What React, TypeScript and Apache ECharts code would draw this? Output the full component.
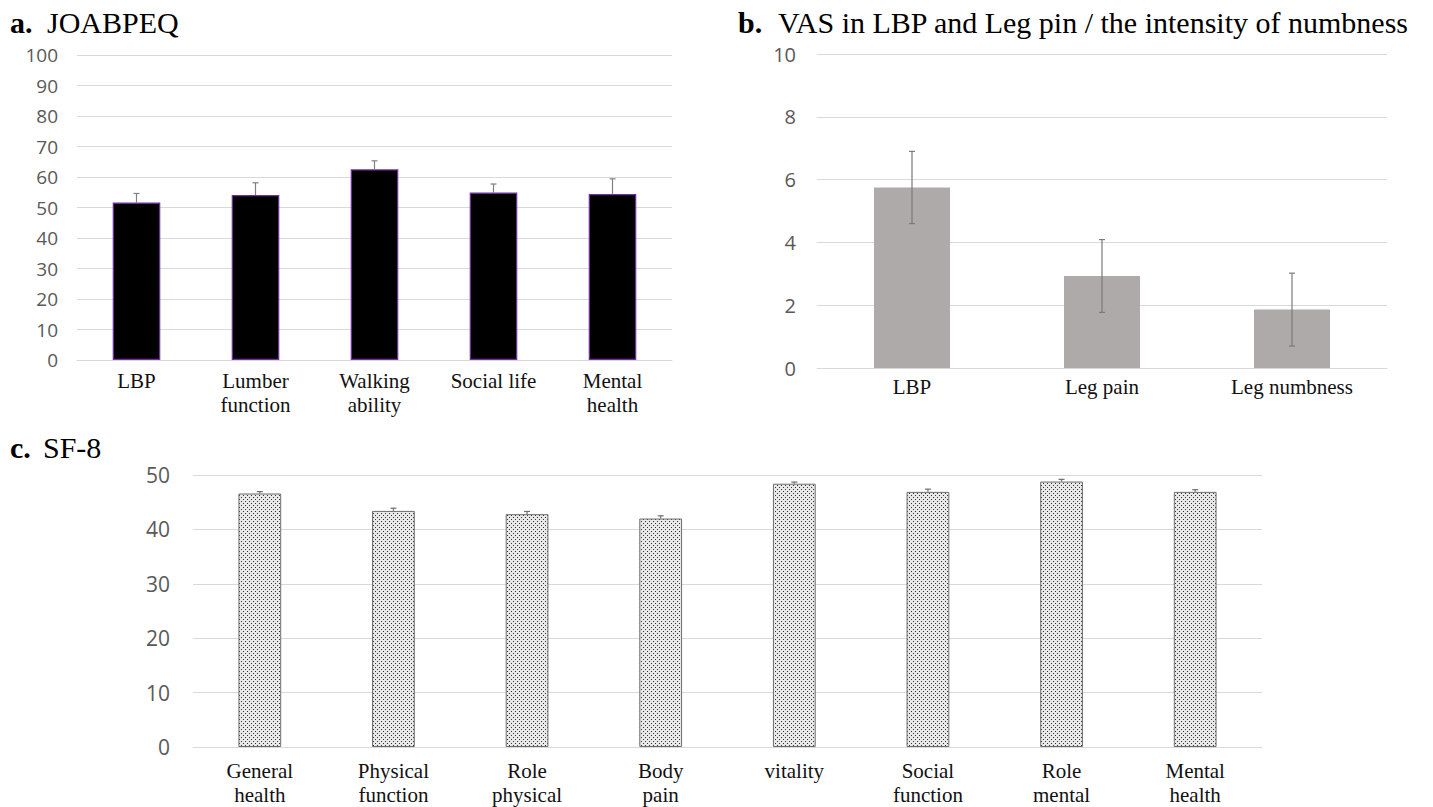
import React, { useEffect, useRef } from "react";
import * as echarts from "echarts";

// ---- Panel a: JOABPEQ ----
const joaCategories = ["LBP", "Lumber\nfunction", "Walking\nability", "Social life", "Mental\nhealth"];
const joaValues = [51.6, 54.1, 62.5, 54.9, 54.4];
const joaErrors = [3.0, 4.0, 2.8, 2.8, 5.0];
const joaTicks = { min: 0, max: 100, interval: 10 };

// ---- Panel b: VAS ----
const vasCategories = ["LBP", "Leg pain", "Leg numbness"];
const vasValues = [5.75, 2.93, 1.86];
const vasErrors = [1.15, 1.16, 1.16];
const vasTicks = { min: 0, max: 10, interval: 2 };

// ---- Panel c: SF-8 ----
const sfCategories = [
  "General\nhealth",
  "Physical\nfunction",
  "Role\nphysical",
  "Body\npain",
  "vitality",
  "Social\nfunction",
  "Role\nmental",
  "Mental\nhealth",
];
const sfValues = [46.6, 43.4, 42.8, 42.0, 48.4, 46.9, 48.8, 46.9];
const sfErrors = [0.35, 0.5, 0.5, 0.5, 0.3, 0.5, 0.4, 0.4];
const sfTicks = { min: 0, max: 50, interval: 10 };

const SERIF = "'Liberation Serif', 'Times New Roman', serif";
const SANS = "'Open Sans', 'Noto Sans', sans-serif";

function makePattern(): HTMLCanvasElement {
  const c = document.createElement("canvas");
  c.width = 4;
  c.height = 4;
  const ctx = c.getContext("2d")!;
  ctx.fillStyle = "#e8e8e8";
  ctx.fillRect(0, 0, 4, 4);
  ctx.fillStyle = "#333333";
  ctx.fillRect(1, 1, 1, 1);
  ctx.fillRect(3, 3, 1, 1);
  return c;
}

function errorSeries(
  idx: number,
  values: number[],
  errors: number[],
  both: boolean,
  color: string,
  capHalf: number
) {
  return {
    type: "custom",
    xAxisIndex: idx,
    yAxisIndex: idx,
    z: 5,
    silent: true,
    data: values.map((v, i) => [i, v, errors[i]]),
    renderItem: (params: any, api: any) => {
      const x = api.value(0);
      const v = api.value(1);
      const e = api.value(2);
      const top = api.coord([x, v + e]);
      const bot = api.coord([x, both ? v - e : v]);
      const style = { stroke: color, lineWidth: 1.2 };
      const children: any[] = [
        { type: "line", shape: { x1: top[0], y1: top[1], x2: bot[0], y2: bot[1] }, style },
        { type: "line", shape: { x1: top[0] - capHalf, y1: top[1], x2: top[0] + capHalf, y2: top[1] }, style },
      ];
      if (both) {
        children.push({
          type: "line",
          shape: { x1: bot[0] - capHalf, y1: bot[1], x2: bot[0] + capHalf, y2: bot[1] },
          style,
        });
      }
      return { type: "group", children };
    },
  };
}

function valueAxis(idx: number, t: { min: number; max: number; interval: number }, fontSize: number, margin: number) {
  return {
    type: "value",
    gridIndex: idx,
    min: t.min,
    max: t.max,
    interval: t.interval,
    axisLine: { show: false },
    axisTick: { show: false },
    axisLabel: { color: "#595959", fontFamily: SANS, fontSize, margin },
    splitLine: { show: true, lineStyle: { color: "#d9d9d9", width: 1 } },
  };
}

function catAxis(idx: number, data: string[], margin: number) {
  return {
    type: "category",
    gridIndex: idx,
    data,
    axisLine: { show: true, lineStyle: { color: "#d9d9d9", width: 1 } },
    axisTick: { show: false },
    axisLabel: {
      color: "#111",
      fontFamily: SERIF,
      fontSize: 21,
      lineHeight: 24,
      margin,
      interval: 0,
    },
  };
}

function titleTexts(x: number, y: number, letter: string, gap: number, rest: string) {
  return [
    {
      type: "text",
      left: x,
      top: y,
      style: { text: letter, fontFamily: SERIF, fontWeight: "bold", fontSize: 30, fill: "#000" },
    },
    {
      type: "text",
      left: x + gap,
      top: y,
      style: { text: rest, fontFamily: SERIF, fontSize: 30, fill: "#000" },
    },
  ];
}

export default function App() {
  const ref = useRef<HTMLDivElement>(null);
  useEffect(() => {
    if (!ref.current) return;
    const chart = echarts.init(ref.current, undefined, { renderer: "svg" });
    const pattern = makePattern();
    const option: any = {
      animation: false,
      backgroundColor: "#ffffff",
      grid: [
        { left: 77, top: 55, width: 595, height: 305 },
        { left: 817, top: 54, width: 570, height: 314 },
        { left: 193, top: 475, width: 1069, height: 273 },
      ],
      xAxis: [catAxis(0, joaCategories, 9), catAxis(1, vasCategories, 7), catAxis(2, sfCategories, 12)],
      yAxis: [valueAxis(0, joaTicks, 19, 19), valueAxis(1, vasTicks, 20, 21), valueAxis(2, sfTicks, 21, 23)],
      series: [
        {
          type: "bar",
          xAxisIndex: 0,
          yAxisIndex: 0,
          data: joaValues,
          barWidth: "40%",
          itemStyle: { color: "#000000", borderColor: "#7030A0", borderWidth: 1.2 },
        },
        errorSeries(0, joaValues, joaErrors, false, "#808080", 3),
        {
          type: "bar",
          xAxisIndex: 1,
          yAxisIndex: 1,
          data: vasValues,
          barWidth: "40%",
          itemStyle: { color: "#AEAAAA" },
        },
        errorSeries(1, vasValues, vasErrors, true, "#7a7a7a", 3),
        {
          type: "bar",
          xAxisIndex: 2,
          yAxisIndex: 2,
          data: sfValues,
          barWidth: "32%",
          itemStyle: {
            color: { image: pattern, repeat: "repeat", imageWidth: 4, imageHeight: 4 },
            borderColor: "#6e6e6e",
            borderWidth: 1,
          },
        },
        errorSeries(2, sfValues, sfErrors, false, "#6e6e6e", 3),
      ],
      graphic: [
        ...titleTexts(10, 7, "a.", 37, "JOABPEQ"),
        ...titleTexts(738, 7, "b.", 40, "VAS in LBP and Leg pin / the intensity of numbness"),
        ...titleTexts(10, 432, "c.", 33, "SF-8"),
      ],
    };
    chart.setOption(option);
    return () => chart.dispose();
  }, []);
  return (
    <div
      ref={ref}
      style={{ position: "absolute", left: 0, top: 0, width: 1433, height: 807, background: "#fff" }}
    />
  );
}
